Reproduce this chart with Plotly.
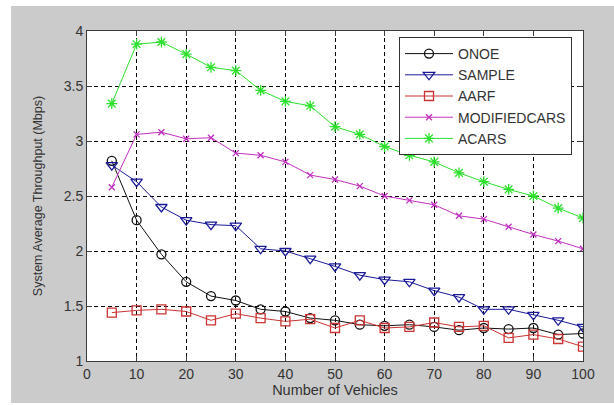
import plotly.graph_objects as go

x_vals = [5, 10, 15, 20, 25, 30, 35, 40, 45, 50, 55, 60, 65, 70, 75, 80, 85, 90, 95, 100]

onoe = [2.82, 2.28, 1.97, 1.72, 1.59, 1.55, 1.47, 1.45, 1.39, 1.37, 1.33, 1.32, 1.33, 1.31, 1.28, 1.30, 1.29, 1.30, 1.24, 1.25]
sample = [2.78, 2.63, 2.40, 2.28, 2.24, 2.23, 2.02, 2.00, 1.93, 1.86, 1.78, 1.74, 1.72, 1.64, 1.58, 1.47, 1.47, 1.42, 1.37, 1.31]
aarf = [1.44, 1.46, 1.47, 1.45, 1.37, 1.43, 1.39, 1.36, 1.38, 1.30, 1.37, 1.30, 1.31, 1.35, 1.31, 1.32, 1.21, 1.24, 1.20, 1.13]
modifiedcars = [2.58, 3.06, 3.08, 3.02, 3.03, 2.89, 2.87, 2.81, 2.69, 2.65, 2.59, 2.50, 2.46, 2.42, 2.32, 2.29, 2.22, 2.15, 2.09, 2.02]
acars = [3.34, 3.88, 3.90, 3.79, 3.67, 3.64, 3.46, 3.36, 3.32, 3.13, 3.06, 2.95, 2.87, 2.81, 2.71, 2.63, 2.56, 2.50, 2.39, 2.30]

series = [
    ("ONOE", onoe, "#111111", "circle-open", 9),
    ("SAMPLE", sample, "#1a1a99", "triangle-down-open", 10),
    ("AARF", aarf, "#cc3333", "square-open", 9),
    ("MODIFIEDCARS", modifiedcars, "#c030c0", "x-thin-open", 6),
    ("ACARS", acars, "#2ee02e", "asterisk-open", 9),
]

fig = go.Figure()
for name, ys, color, sym, size in series:
    fig.add_trace(go.Scatter(
        x=x_vals, y=ys, name=name, mode="lines+markers",
        line=dict(color=color, width=1),
        marker=dict(symbol=sym, size=size, color=color, line=dict(color=color, width=1.3)),
    ))

W, H = 614, 405
L, R, T, B = 87, 31, 31, 44
pw, ph = W - L - R, H - T - B

def px_x(p):
    return (p - L) / pw

def px_y(p):
    return (H - B - p) / ph

shapes = [
    dict(type="rect", xref="paper", yref="paper", x0=px_x(0), x1=px_x(11), y0=px_y(405), y1=px_y(0),
         fillcolor="white", line=dict(width=0), layer="below"),
    dict(type="rect", xref="paper", yref="paper", x0=px_x(0), x1=px_x(614), y0=px_y(6), y1=px_y(0),
         fillcolor="white", line=dict(width=0), layer="below"),
    dict(type="rect", xref="paper", yref="paper", x0=px_x(0), x1=px_x(614), y0=px_y(405), y1=px_y(403),
         fillcolor="white", line=dict(width=0), layer="below"),
]

axis_common = dict(
    showline=True, linecolor="#3a3a3a", linewidth=1, mirror="ticks",
    ticks="inside", ticklen=5, tickcolor="#3a3a3a",
    showgrid=True, gridcolor="#000000", gridwidth=1, griddash="4px,3px",
    zeroline=False, tickfont=dict(family="Liberation Sans, Arial", size=14, color="#333333"),
)

fig.update_layout(
    width=W, height=H,
    margin=dict(l=L, r=R, t=T, b=B, autoexpand=False),
    paper_bgcolor="#cbcbcb", plot_bgcolor="white",
    font=dict(family="Liberation Sans, Arial", size=14, color="#333333"),
    shapes=shapes,
    xaxis=dict(range=[0, 100], dtick=10, tick0=0, automargin=False,
               title=dict(text="Number of Vehicles", font=dict(size=14.5, color="#333333"), standoff=4),
               **axis_common),
    yaxis=dict(range=[1, 4], dtick=0.5, tick0=1, automargin=False,
               title=dict(text="System Average Throughput (Mbps)", font=dict(size=12.5, color="#333333"), standoff=18),
               **axis_common),
    legend=dict(x=px_x(399), y=px_y(37), xanchor="left", yanchor="top",
                bgcolor="white", bordercolor="#333333", borderwidth=1,
                font=dict(size=14, color="#333333"), tracegroupgap=0, itemwidth=48),
    showlegend=True,
)

fig.write_html("out.html")
